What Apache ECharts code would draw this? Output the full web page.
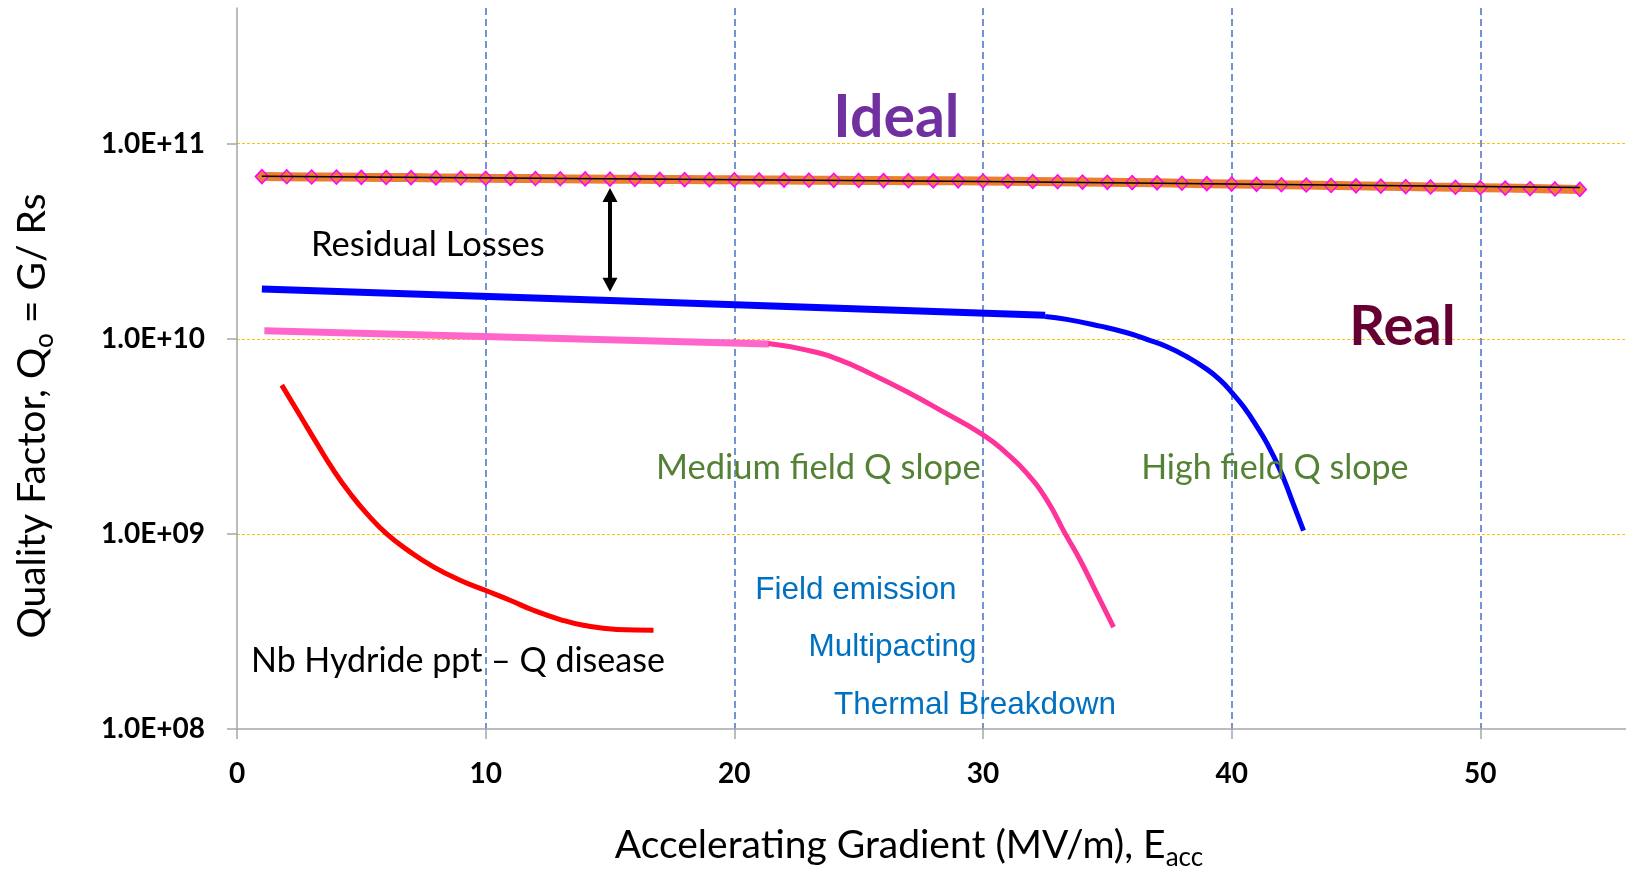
<!DOCTYPE html>
<html>
<head>
<meta charset="utf-8">
<script src="https://cdn.jsdelivr.net/npm/echarts@6/dist/echarts.min.js"></script>
<style>
  html, body { margin: 0; padding: 0; background: #ffffff; }
  #chart { width: 1626px; height: 871px; }
</style>
</head>
<body>
<div id="chart"></div>
<script>
// Ideal (BCS-limited) cavity: gradient in MV/m and Q0 in units of 1e10
const idealE = [1, 2, 3, 4, 5, 6, 7, 8, 9, 10, 11, 12, 13, 14, 15, 16, 17, 18,
  19, 20, 21, 22, 23, 24, 25, 26, 27, 28, 29, 30, 31, 32, 33, 34, 35, 36, 37,
  38, 39, 40, 41, 42, 43, 44, 45, 46, 47, 48, 49, 50, 51, 52, 53, 54];
const idealQ = [6.78, 6.77, 6.75, 6.74, 6.72, 6.71, 6.70, 6.68, 6.67, 6.65,
  6.64, 6.63, 6.61, 6.60, 6.58, 6.57, 6.56, 6.55, 6.54, 6.53, 6.52, 6.51, 6.50,
  6.49, 6.48, 6.47, 6.46, 6.45, 6.45, 6.44, 6.42, 6.40, 6.38, 6.36, 6.34, 6.32,
  6.30, 6.27, 6.24, 6.21, 6.19, 6.16, 6.14, 6.11, 6.08, 6.06, 6.03, 6.00, 5.98,
  5.95, 5.92, 5.89, 5.86, 5.83];

// Trend line through the ideal curve
const idealFitE = [1, 30, 54];
const idealFitQ = [6.80e10, 6.40e10, 5.97e10];

// Real cavity: residual-loss plateau, then high field Q slope
const realLowE = [1, 15, 32.5];
const realLowQ = [1.80e10, 1.57e10, 1.32e10];
const realHighE = [32.5, 33.37, 34.71, 35.79, 36.59, 37.4, 38.2, 39.01, 39.54,
  39.98, 40.48, 41.02, 41.42, 41.95, 42.42, 42.89];
const realHighQ = [1.30e10, 1.258e10, 1.161e10, 1.074e10, 9.93e9, 9.11e9, 8.09e9,
  6.97e9, 6.14e9, 5.35e9, 4.48e9, 3.54e9, 2.91e9, 2.12e9, 1.49e9, 1.04e9];

// Cavity limited by medium field Q slope / thermal breakdown
const medLowE = [1.1, 21.4];
const medLowQ = [1.10e10, 9.4e9];
const medSlopeE = [21.37, 22.92, 24.26, 25.59, 26.94, 28.28, 30.02, 30.96, 31.77,
  32.57, 33.31, 33.91, 34.58, 35.25];
const medSlopeQ = [9.46e9, 8.75e9, 7.78e9, 6.52e9, 5.35e9, 4.31e9, 3.21e9, 2.58e9,
  2.04e9, 1.49e9, 1.0e9, 7.33e8, 4.94e8, 3.33e8];

// Q disease (niobium hydride precipitation)
const hydrideE = [1.8, 2.53, 3.21, 3.88, 4.55, 5.22, 6.02, 6.96, 7.9, 8.97, 9.98,
  10.98, 11.92, 13.0, 13.93, 15.27, 16.75];
const hydrideQ = [5.79e9, 4.06e9, 2.91e9, 2.12e9, 1.61e9, 1.27e9, 1.0e9, 8.09e8,
  6.78e8, 5.79e8, 5.14e8, 4.57e8, 4.06e8, 3.64e8, 3.40e8, 3.24e8, 3.21e8];

// Residual-loss gap marker (gradient, Q at each end)
const gapE = 15;
const gapQ = [5.46e10, 1.89e10];

// Axis ticks
const xTicks = [0, 10, 20, 30, 40, 50];
const yTicks = [1e8, 1e9, 1e10, 1e11];
const yTickLabels = ['1.0E+08', '1.0E+09', '1.0E+10', '1.0E+11'];

const pts = (xs, ys, k = 1) => xs.map((x, i) => [x, ys[i] * k]);

const AXIS_GREY = '#A6A6A6';
const CALIBRI = 'Lato, "Open Sans", sans-serif';
const ARIAL = '"Liberation Sans", Arial, sans-serif';

const chart = echarts.init(document.getElementById('chart'), null, { renderer: 'canvas' });

function plainLine(name, data, color, width, smooth, z) {
  return {
    name, type: 'line', data, symbol: 'none', showSymbol: false,
    smooth: smooth,
    lineStyle: { color, width, cap: 'butt', join: 'round' },
    z: z || 3, animation: false
  };
}

chart.setOption({
  animation: false,
  backgroundColor: '#ffffff',
  grid: { left: 237, top: 8, width: 1492, height: 721, containLabel: false, outerBoundsMode: 'none' },
  xAxis: {
    type: 'value', min: 0, max: 60, interval: 10,
    axisLine: { show: true, onZero: false, lineStyle: { color: AXIS_GREY, width: 1.5 } },
    axisTick: { show: true, length: 10, lineStyle: { color: AXIS_GREY, width: 1.5 } },
    axisLabel: {
      margin: 31, color: '#000', fontFamily: CALIBRI, fontWeight: 'bold', fontSize: 28,
      formatter: v => (xTicks.includes(v) ? String(v) : '')
    },
    splitLine: { show: true, showMinLine: false, showMaxLine: false,
      lineStyle: { color: '#4472C4', type: [7, 4], width: 1.5 } }
  },
  yAxis: {
    type: 'log', logBase: 10, min: 1e8, max: 4.96e11,
    axisLine: { show: true, onZero: false, lineStyle: { color: AXIS_GREY, width: 1.5 } },
    axisTick: { show: true, length: 10, customValues: yTicks, lineStyle: { color: AXIS_GREY, width: 1.5 } },
    minorTick: { show: false },
    axisLabel: {
      margin: 32, color: '#000', fontFamily: CALIBRI, fontWeight: 'bold', fontSize: 28,
      customValues: yTicks,
      formatter: v => {
        const i = yTicks.findIndex(t => Math.abs(Math.log10(t) - Math.log10(v)) < 1e-6);
        return i < 0 ? '' : yTickLabels[i];
      }
    },
    splitLine: { show: true, showMinLine: false, showMaxLine: true,
      lineStyle: { color: '#FFC000', type: [3, 2], width: 1 } }
  },
  series: [
    {
      name: 'Ideal', type: 'line', data: pts(idealE, idealQ, 1e10),
      symbol: 'diamond', symbolSize: [13, 14], showAllSymbol: true,
      lineStyle: { color: '#ED7D31', width: 9 },
      itemStyle: { color: '#ED7D31', borderColor: '#FF00FF', borderWidth: 1.5 },
      z: 3, animation: false
    },
    plainLine('Ideal fit', pts(idealFitE, idealFitQ), '#000000', 1.5, false, 4),
    Object.assign(plainLine('Real', pts(realLowE, realLowQ), '#0000FF', 7, false, 3), {
      markLine: {
        silent: true, animation: false,
        symbol: ['triangle', 'triangle'], symbolSize: [15, 14],
        lineStyle: { color: '#000000', width: 4, type: 'solid' },
        label: { show: false },
        data: [[{ coord: [gapE, gapQ[0]] }, { coord: [gapE, gapQ[1]] }]]
      }
    }),
    plainLine('Real high field', pts(realHighE, realHighQ), '#0000FF', 5, 0.5, 3),
    plainLine('Medium', pts(medLowE, medLowQ), '#FF66CC', 7, false, 3),
    plainLine('Medium field slope', pts(medSlopeE, medSlopeQ), '#FF3399', 5, 0.5, 3),
    plainLine('Q disease', pts(hydrideE, hydrideQ), '#FF0000', 5, 0.5, 3)
  ]
});

// Annotations anchored in data space (gradient, Q0): left edge, vertical middle
const annotations = [
  { text: 'Ideal', at: [23.98, 1.355e11], color: '#7030A0', family: CALIBRI, size: 59, weight: 'bold' },
  { text: 'Real', at: [44.73, 1.155e10], color: '#660033', family: CALIBRI, size: 56, weight: 'bold' },
  { text: 'Residual Losses', at: [2.98, 3.03e10], color: '#000000', family: CALIBRI, size: 34.5, weight: 'normal' },
  { text: 'Medium field Q slope', at: [16.85, 2.18e9], color: '#548235', family: CALIBRI, size: 34.5, weight: 'normal' },
  { text: 'High field Q slope', at: [36.36, 2.18e9], color: '#548235', family: CALIBRI, size: 34, weight: 'normal' },
  { text: 'Field emission', at: [20.84, 5.13e8], color: '#0070C0', family: ARIAL, size: 31.5, weight: 'normal' },
  { text: 'Multipacting', at: [22.98, 2.61e8], color: '#0070C0', family: ARIAL, size: 31.5, weight: 'normal' },
  { text: 'Thermal Breakdown', at: [24.01, 1.32e8], color: '#0070C0', family: ARIAL, size: 31.5, weight: 'normal' },
  { text: 'Nb Hydride ppt \u2013 Q disease', at: [0.56, 2.24e8], color: '#000000', family: CALIBRI, size: 34, weight: 'normal' }
];

const graphics = annotations.map(a => {
  const [x, y] = chart.convertToPixel({ gridIndex: 0 }, a.at);
  return {
    type: 'text', x, y, z: 20, silent: true,
    style: {
      text: a.text, fill: a.color, fontFamily: a.family, fontSize: a.size,
      fontWeight: a.weight, align: 'left', verticalAlign: 'middle'
    }
  };
});

// Axis titles with subscripts
graphics.push({
  type: 'text', x: 909, y: 845, z: 20, silent: true,
  style: {
    text: '{a|Accelerating Gradient (MV/m), E}{s|acc}',
    align: 'center', verticalAlign: 'middle',
    rich: {
      a: { fontFamily: CALIBRI, fontSize: 39, fill: '#000', lineHeight: 52 },
      s: { fontFamily: CALIBRI, fontSize: 26, fill: '#000', lineHeight: 26, verticalAlign: 'bottom' }
    }
  }
});
graphics.push({
  type: 'text', x: 32, y: 416, rotation: Math.PI / 2, z: 20, silent: true,
  style: {
    text: '{a|Quality Factor, Q}{s|o}{a| = G/ Rs}',
    align: 'center', verticalAlign: 'middle',
    rich: {
      a: { fontFamily: CALIBRI, fontSize: 39, fill: '#000', lineHeight: 52 },
      s: { fontFamily: CALIBRI, fontSize: 26, fill: '#000', lineHeight: 26, verticalAlign: 'bottom' }
    }
  }
});

chart.setOption({ graphic: graphics });
</script>
</body>
</html>
